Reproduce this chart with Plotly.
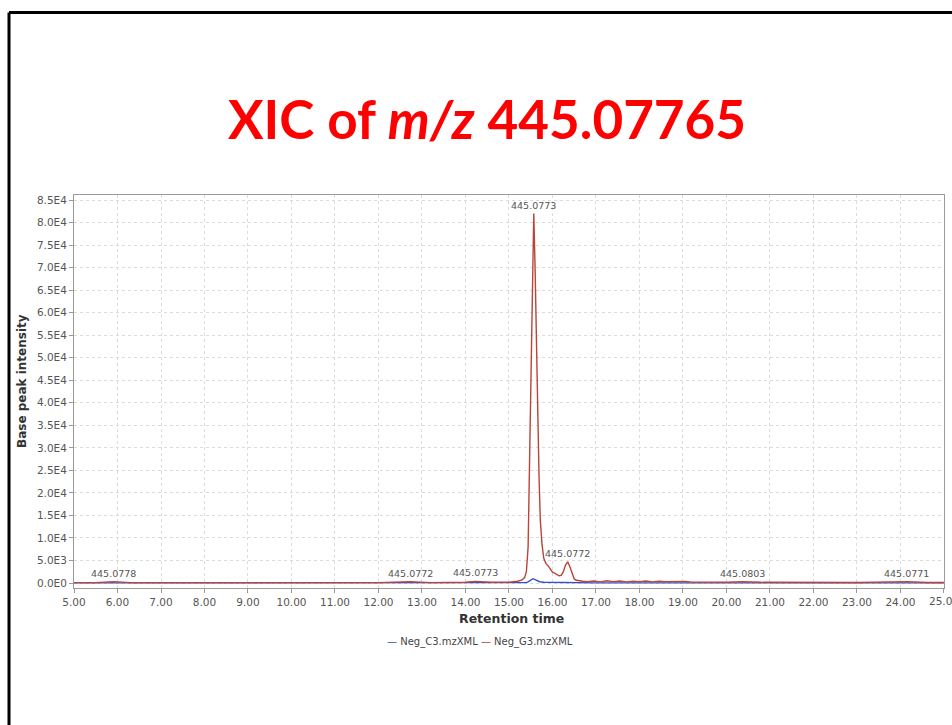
import plotly.graph_objects as go

# Extracted ion chromatogram, m/z 445.07765
# Neg_G3 (red) retention time (min) and base peak intensity
g3_rt = [5.00, 5.50, 5.90, 6.30, 7.00, 8.00, 9.00, 10.00, 11.00, 12.00, 12.73, 13.20,
         14.00, 14.23, 14.60, 15.00, 15.20, 15.30, 15.36, 15.40, 15.44, 15.47, 15.50,
         15.53, 15.57, 15.60, 15.63, 15.66, 15.69, 15.72, 15.76, 15.80, 15.85, 15.90,
         15.95, 16.00, 16.05, 16.10, 16.15, 16.20, 16.25, 16.30, 16.35, 16.40, 16.45,
         16.50, 16.55, 16.60, 16.70, 16.80, 16.95, 17.10, 17.25, 17.40, 17.55, 17.70,
         17.85, 18.00, 18.15, 18.30, 18.45, 18.60, 18.75, 18.90, 19.05, 19.20, 19.40,
         19.70, 20.00, 20.37, 20.80, 21.50, 22.00, 23.00, 24.15, 24.60, 25.00]
g3_int = [80, 90, 300, 90, 80, 80, 90, 80, 90, 80, 300, 90,
          150, 350, 150, 200, 400, 700, 1200, 2500, 8000, 25000, 45000,
          68000, 82000, 70000, 52000, 38000, 24000, 14000, 8500, 5500, 4300, 3800,
          3000, 2400, 2200, 1800, 1600, 1700, 2500, 4000, 4700, 3600, 2000,
          900, 600, 500, 400, 300, 450, 250, 500, 300, 450, 250,
          400, 300, 450, 250, 400, 300, 350, 250, 350, 200, 250,
          200, 150, 300, 150, 120, 110, 100, 300, 100, 100]

# Neg_C3 (blue)
c3_rt = [5.00, 10.00, 15.00, 15.40, 15.45, 15.50, 15.55, 15.60, 15.65, 15.70, 15.80,
         16.00, 16.30, 16.70, 17.00, 20.00, 25.00]
c3_int = [20, 20, 30, 80, 300, 700, 950, 750, 450, 280, 160,
          110, 90, 70, 30, 20, 20]

# m/z labels at local maxima of the G3 trace
label_rt = [5.90, 12.73, 14.23, 15.57, 16.35, 20.37, 24.15]
label_int = [300, 300, 350, 82000, 4700, 300, 300]
label_text = ["445.0778", "445.0772", "445.0773", "445.0773", "445.0772", "445.0803", "445.0771"]

y_ticks = [i * 5000 for i in range(18)]
y_tick_text = ["0.0E0", "5.0E3", "1.0E4", "1.5E4", "2.0E4", "2.5E4", "3.0E4", "3.5E4",
               "4.0E4", "4.5E4", "5.0E4", "5.5E4", "6.0E4", "6.5E4", "7.0E4", "7.5E4",
               "8.0E4", "8.5E4"]
x_ticks = list(range(5, 26))
x_tick_text = ["%.2f" % v for v in x_ticks]

RED = "#b9443a"
BLUE = "#3a4fc4"
TICK_FONT = dict(family="DejaVu Sans", size=10.5, color="#555555")

fig = go.Figure()
fig.add_trace(go.Scatter(x=c3_rt, y=c3_int, mode="lines", name="Neg_C3.mzXML",
                         line=dict(color=BLUE, width=1.4), showlegend=False))
fig.add_trace(go.Scatter(x=g3_rt, y=g3_int, mode="lines", name="Neg_G3.mzXML",
                         line=dict(color=RED, width=1.4), showlegend=False))

annotations = []
for rt, val, txt in zip(label_rt, label_int, label_text):
    annotations.append(dict(x=rt, y=val, xref="x", yref="y", text=txt, showarrow=False,
                            yanchor="bottom", yshift=1,
                            font=dict(family="DejaVu Sans", size=9.5, color="#555555")))

# Last x tick label sits past the right edge of the page
annotations.append(dict(x=x_ticks[-1], y=1 - 601 / 725, xref="x", yref="paper",
                        text=x_tick_text[-1], showarrow=False, xanchor="center",
                        yanchor="middle", font=TICK_FONT))

# Slide title
annotations.append(dict(
    x=487 / 952, y=1 - 118 / 725, xref="paper", yref="paper", showarrow=False,
    text="XIC of <i>m/z</i> 445.07765", xanchor="center", yanchor="middle",
    font=dict(family="Lato", size=53, color="#ff0000", weight="bold")))
# Axis titles
annotations.append(dict(
    x=22 / 952, y=1 - 381 / 725, xref="paper", yref="paper", showarrow=False,
    text="<b>Base peak intensity</b>", textangle=-90, xanchor="center", yanchor="middle",
    font=dict(family="DejaVu Sans", size=12, color="#333333")))
annotations.append(dict(
    x=511 / 952, y=1 - 618 / 725, xref="paper", yref="paper", showarrow=False,
    text="<b>Retention time</b>", xanchor="center", yanchor="middle",
    font=dict(family="DejaVu Sans", size=12.5, color="#333333")))
# Legend row
annotations.append(dict(
    x=480 / 952, y=1 - 642 / 725, xref="paper", yref="paper", showarrow=False,
    text=(f'<span style="color:{BLUE}">—</span> Neg_C3.mzXML '
          f'<span style="color:{RED}">—</span> Neg_G3.mzXML'),
    xanchor="center", yanchor="middle",
    font=dict(family="DejaVu Sans", size=10, color="#444444")))

# Slide frame (top and left edges)
shapes = [
    dict(type="line", xref="paper", yref="paper", x0=9 / 952, x1=1.0,
         y0=1 - 12.5 / 725, y1=1 - 12.5 / 725, line=dict(color="black", width=3)),
    dict(type="line", xref="paper", yref="paper", x0=9 / 952, x1=9 / 952,
         y0=0, y1=1 - 12.5 / 725, line=dict(color="black", width=3)),
]

fig.update_layout(
    width=952, height=725,
    margin=dict(l=0, r=0, t=0, b=0),
    paper_bgcolor="white", plot_bgcolor="white",
    annotations=annotations, shapes=shapes,
    xaxis=dict(domain=[74 / 952, 944 / 952], range=[5, 25.001],
               tickvals=x_ticks, ticktext=x_tick_text, tickfont=TICK_FONT,
               ticks="outside", ticklen=4, tickcolor="#999999",
               showgrid=True, gridcolor="#dcdcdc", griddash="dot", gridwidth=1,
               showline=True, linecolor="#9a9a9a", linewidth=1, mirror=True,
               zeroline=False, automargin=False),
    yaxis=dict(domain=[1 - 588 / 725, 1 - 195 / 725], range=[-1110, 86110],
               tickvals=y_ticks, ticktext=y_tick_text, tickfont=TICK_FONT,
               ticks="outside", ticklen=4, tickcolor="#999999",
               showgrid=True, gridcolor="#dcdcdc", griddash="dot", gridwidth=1,
               showline=True, linecolor="#9a9a9a", linewidth=1, mirror=True,
               zeroline=False, automargin=False),
)

fig.write_html("out.html")
